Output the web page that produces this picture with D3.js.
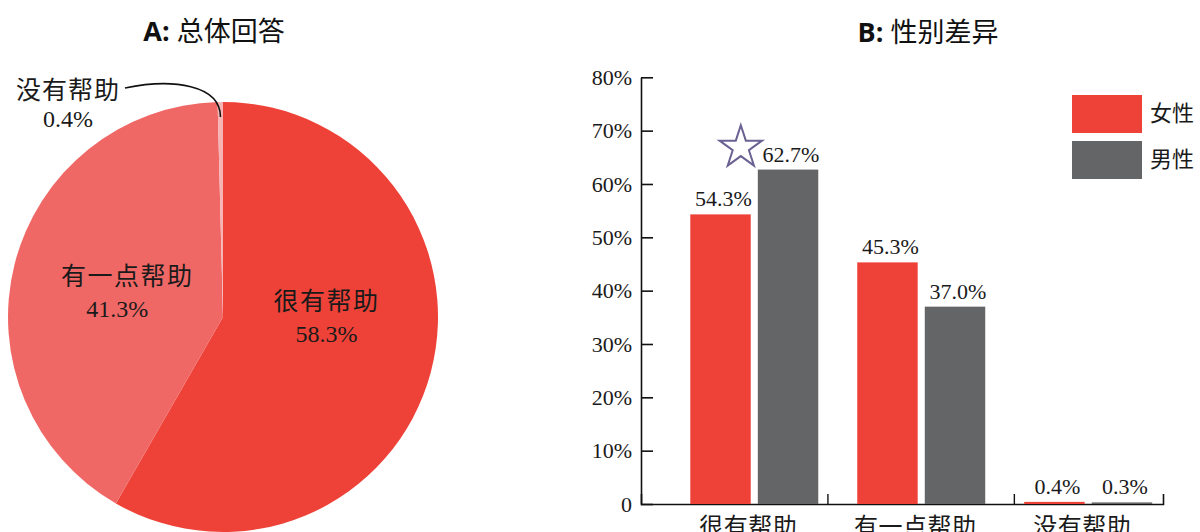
<!DOCTYPE html>
<html lang="zh">
<head>
<meta charset="utf-8">
<title>总体回答 / 性别差异</title>
<script src="https://cdn.jsdelivr.net/npm/d3@7"></script>
<style>
  body { margin: 0; background: #fff; }
  .serif { font-family: "Liberation Serif", "Noto Sans CJK SC", serif; fill: #1a1a1a; }
  .title { font-family: "Open Sans", "Noto Sans CJK SC", sans-serif; font-size: 27px; fill: #111; }
</style>
</head>
<body>
<div id="chart"></div>
<script>
// données
const pieLabels = ["很有帮助", "有一点帮助", "没有帮助"];
const pieValues = [58.3, 41.3, 0.4];
const pieColors = ["#EE4238", "#F06866", "#F6B4B4"];

const categories = ["很有帮助", "有一点帮助", "没有帮助"];
const groups = ["女性", "男性"];
const femaleValues = [54.3, 45.3, 0.4];
const maleValues = [62.7, 37.0, 0.3];
const barColors = ["#EE4238", "#646567"];
const yTicks = [0, 10, 20, 30, 40, 50, 60, 70, 80];

const width = 1200, height = 532;
const svg = d3.select("#chart").append("svg")
    .attr("width", width)
    .attr("height", height);

// ---------- A : camembert ----------
const cx = 223, cy = 317, radius = 215;

svg.append("text").attr("class", "title")
    .attr("x", 214).attr("y", 30)
    .attr("text-anchor", "middle").attr("dominant-baseline", "central")
    .call(t => {
        t.append("tspan").attr("font-weight", "bold").text("A:");
        t.append("tspan").text(" 总体回答");
    });

const pie = d3.pie().sort(null).value(d => d);
const arcs = pie(pieValues);
const arc = d3.arc().innerRadius(0).outerRadius(radius);
const labelArc = d3.arc().innerRadius(105).outerRadius(105);

const gPie = svg.append("g").attr("transform", `translate(${cx},${cy})`);
gPie.selectAll("path")
    .data(arcs)
    .enter().append("path")
    .attr("d", arc)
    .attr("fill", (d, i) => pieColors[i]);

// étiquettes à l'intérieur (les deux grandes parts)
const nudge = [-28, 0];
arcs.slice(0, 2).forEach((d, i) => {
    const [x, y] = labelArc.centroid(d);
    const t = gPie.append("text").attr("class", "serif")
        .attr("text-anchor", "middle")
        .attr("x", x + 2).attr("y", y + nudge[i]);
    t.append("tspan").attr("x", x + (i === 0 ? 2 : 6)).attr("dy", "-0.25em")
        .style("font-size", "25px").style("letter-spacing", "1.5px")
        .text(pieLabels[i]);
    t.append("tspan").attr("x", x + (i === 0 ? 2 : -4)).attr("dy", "1.35em")
        .style("font-size", "24px")
        .text(pieValues[i].toFixed(1) + "%");
});

// petite part : étiquette dehors avec une ligne courbe
const small = arcs[2];
const midA = (small.startAngle + small.endAngle) / 2;
const endPt = [cx + 200 * Math.sin(midA), cy - 200 * Math.cos(midA)];
const startPt = [125, 88];
svg.append("path")
    .attr("d", `M${startPt[0]},${startPt[1]} C${startPt[0] + 48},${startPt[1] - 10} ${endPt[0]},${endPt[1] - 32} ${endPt[0]},${endPt[1]}`)
    .attr("fill", "none").attr("stroke", "#111").attr("stroke-width", 1.6);
svg.append("text").attr("class", "serif")
    .attr("x", 68).attr("y", 90)
    .attr("text-anchor", "middle").attr("dominant-baseline", "central")
    .style("font-size", "25px").style("letter-spacing", "1px")
    .text(pieLabels[2]);
svg.append("text").attr("class", "serif")
    .attr("x", 68).attr("y", 119)
    .attr("text-anchor", "middle").attr("dominant-baseline", "central")
    .style("font-size", "24px")
    .text(pieValues[2].toFixed(1) + "%");

// ---------- B : barres ----------
svg.append("text").attr("class", "title")
    .attr("x", 928).attr("y", 31)
    .attr("text-anchor", "middle").attr("dominant-baseline", "central")
    .call(t => {
        t.append("tspan").attr("font-weight", "bold").text("B:");
        t.append("tspan").text(" 性别差异");
    });

const left = 641, right = 1163, bottom = 504;
const y = d3.scaleLinear().domain([0, 80]).range([bottom, 77.3]);

const x0 = d3.scaleBand().domain(categories)
    .range([left, right]).paddingInner(0.2335).paddingOuter(0.18).align(0.82);
const x1 = d3.scaleBand().domain(groups)
    .range([0, x0.bandwidth()]).paddingInner(0.105);

// axe Y
const yAxis = svg.append("g")
    .attr("transform", `translate(${left},0)`)
    .call(d3.axisLeft(y).tickValues(yTicks)
        .tickSizeInner(-12).tickSizeOuter(0).tickPadding(9)
        .tickFormat(d => d === 0 ? "0" : d + "%"));
yAxis.selectAll("line").attr("stroke", "#111").attr("stroke-width", 1.6);
yAxis.select(".domain").attr("stroke", "#111").attr("stroke-width", 1.6);
yAxis.selectAll("text").attr("class", "serif").attr("fill", "#1a1a1a")
    .style("font-size", "22px");

// axe X : traits entre catégories
const xTick = d3.scaleLinear().domain([0, 2.8]).range([left, right]);
const xAxis = svg.append("g")
    .attr("transform", `translate(0,${bottom})`)
    .call(d3.axisBottom(xTick).tickValues([1, 2])
        .tickSizeInner(-10).tickSizeOuter(-10).tickFormat(""));
xAxis.selectAll("line").attr("stroke", "#111").attr("stroke-width", 1.4);
xAxis.select(".domain").attr("stroke", "#111").attr("stroke-width", 1.6);

const rows = categories.map((c, i) => ({ cat: c, vals: [femaleValues[i], maleValues[i]] }));

const gGroups = svg.append("g").selectAll("g")
    .data(rows).enter().append("g")
    .attr("transform", d => `translate(${x0(d.cat)},0)`);

gGroups.selectAll("rect")
    .data(d => d.vals.map((v, j) => ({ g: groups[j], v: v, j: j })))
    .enter().append("rect")
    .attr("x", d => x1(d.g))
    .attr("y", d => y(d.v))
    .attr("width", x1.bandwidth())
    .attr("height", d => bottom - y(d.v))
    .attr("fill", d => barColors[d.j]);

gGroups.selectAll("text.val")
    .data(d => d.vals.map((v, j) => ({ g: groups[j], v: v })))
    .enter().append("text")
    .attr("class", "serif val")
    .attr("x", d => x1(d.g) + x1.bandwidth() / 2 + 3)
    .attr("y", d => y(d.v) - 8)
    .attr("text-anchor", "middle")
    .style("font-size", "22px")
    .text(d => d.v.toFixed(1) + "%");

// libellés des catégories
svg.append("g").selectAll("text")
    .data(categories).enter().append("text")
    .attr("class", "serif")
    .attr("x", d => x0(d) + x0.bandwidth() / 2 - 6)
    .attr("y", 527)
    .attr("text-anchor", "middle").attr("dominant-baseline", "central")
    .style("font-size", "24px").style("letter-spacing", "0.5px")
    .text(d => d);

// étoile à côté de la valeur la plus haute
const maxIdx = d3.maxIndex(maleValues);
svg.append("path")
    .attr("d", d3.symbol(d3.symbolStar).size(560)())
    .attr("transform", `translate(${x0(categories[maxIdx]) + x1("男性") - 17},${y(maleValues[maxIdx]) - 22}) `)
    .attr("fill", "none").attr("stroke", "#6B6193").attr("stroke-width", 2);

// légende
const legend = svg.append("g").attr("transform", "translate(1072,95)");
groups.forEach((g, i) => {
    legend.append("rect")
        .attr("x", 0).attr("y", i * 46)
        .attr("width", 70).attr("height", 38)
        .attr("fill", barColors[i]);
    legend.append("text").attr("class", "serif")
        .attr("x", 78).attr("y", i * 46 + 18)
        .attr("dominant-baseline", "central")
        .style("font-size", "22px")
        .text(g);
});
</script>
</body>
</html>
